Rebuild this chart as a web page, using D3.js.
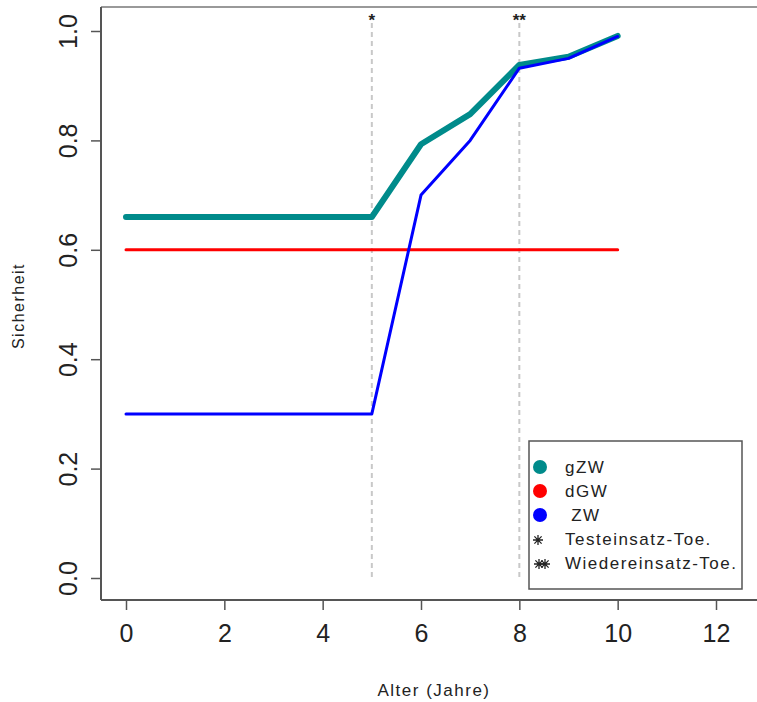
<!DOCTYPE html>
<html>
<head>
<meta charset="utf-8">
<script src="https://cdn.jsdelivr.net/npm/d3@7"></script>
<style>
	body { margin: 0; background: #fff; }
	text { font-family: "Liberation Sans", Arial, sans-serif; fill: #222; }
</style>
</head>
<body>
<svg id="chart" width="757" height="702"></svg>
<script>
"use strict";

// Data
var years = [0, 1, 2, 3, 4, 5, 6, 7, 8, 9, 10];
var gZW = [0.66, 0.66, 0.66, 0.66, 0.66, 0.66, 0.793, 0.848, 0.938, 0.953, 0.991];
var dGW = [0.6, 0.6, 0.6, 0.6, 0.6, 0.6, 0.6, 0.6, 0.6, 0.6, 0.6];
var ZW = [0.3, 0.3, 0.3, 0.3, 0.3, 0.3, 0.70, 0.80, 0.932, 0.95, 0.99];
var markers = [{ x: 5, label: "*" }, { x: 8, label: "**" }];
var xTicks = [0, 2, 4, 6, 8, 10, 12];
var yTicks = [0, 0.2, 0.4, 0.6, 0.8, 1.0];
var legendItems = [
	{ label: "gZW", color: "#008b8b", type: "dot" },
	{ label: "dGW", color: "#ff0000", type: "dot" },
	{ label: " ZW", color: "#0000ff", type: "dot" },
	{ label: "Testeinsatz-Toe.", type: "star", stars: [9] },
	{ label: "Wiedereinsatz-Toe.", type: "star", stars: [10, 16] }
];

var svg = d3.select("#chart");

// scales
var x = d3.scaleLinear().domain([0, 12]).range([126, 716]);
var y = d3.scaleLinear().domain([0, 1]).range([578, 31]);

// plot box (cut off on the right)
var box = { left: 101, top: 7, bottom: 600, right: 780 };
svg.append("line")
	.attr("x1", box.left).attr("x2", box.right)
	.attr("y1", box.top).attr("y2", box.top)
	.style("stroke", "#999").style("stroke-width", 2);
svg.append("line")
	.attr("x1", box.left).attr("x2", box.left)
	.attr("y1", box.top).attr("y2", box.bottom)
	.style("stroke", "#555").style("stroke-width", 2);
svg.append("line")
	.attr("x1", box.left).attr("x2", box.right)
	.attr("y1", box.bottom).attr("y2", box.bottom)
	.style("stroke", "#555").style("stroke-width", 2);

// axes
var xAxis = svg.append("g")
	.attr("transform", "translate(0," + box.bottom + ")")
	.call(d3.axisBottom(x).tickValues(xTicks).tickSize(10).tickPadding(14).tickFormat(d3.format("d")));
xAxis.select(".domain").remove();

var yAxis = svg.append("g")
	.attr("transform", "translate(" + box.left + ",0)")
	.call(d3.axisLeft(y).tickValues(yTicks).tickSize(10).tickFormat(d3.format(".1f")));
yAxis.select(".domain").remove();

svg.selectAll(".tick line").style("stroke", "#555").style("stroke-width", 1.5);
svg.selectAll(".tick text").style("font-size", "25px").style("fill", "#222");

// rotate y labels like R's las=0
yAxis.selectAll(".tick text")
	.attr("x", null).attr("dy", null)
	.attr("text-anchor", "middle")
	.attr("transform", "translate(-33,0) rotate(-90)")
	.attr("dy", "0.35em");

// axis titles
svg.append("text")
	.attr("x", 434).attr("y", 696)
	.attr("text-anchor", "middle")
	.style("font-size", "17px")
	.style("letter-spacing", "1.5px")
	.text("Alter (Jahre)");

svg.append("text")
	.attr("transform", "translate(24,306) rotate(-90)")
	.attr("text-anchor", "middle")
	.style("font-size", "16px")
	.style("letter-spacing", "1.5px")
	.text("Sicherheit");

// marker lines
svg.selectAll(".marker")
	.data(markers)
	.enter()
	.append("line")
	.attr("x1", function(d) { return x(d.x); })
	.attr("x2", function(d) { return x(d.x); })
	.attr("y1", y(1.0) - 8)
	.attr("y2", y(-0.005))
	.style("stroke", "#c8c8c8")
	.style("stroke-width", 2)
	.style("stroke-dasharray", "5,4");

svg.selectAll(".markerLabel")
	.data(markers)
	.enter()
	.append("text")
	.attr("x", function(d) { return x(d.x); })
	.attr("y", 26)
	.attr("text-anchor", "middle")
	.style("font-size", "17px")
	.style("font-weight", "bold")
	.text(function(d) { return d.label; });

// lines
var line = d3.line()
	.x(function(d, i) { return x(years[i]); })
	.y(function(d) { return y(d); });

function drawLine(values, color, width) {
	svg.append("path")
		.datum(values)
		.attr("d", line)
		.style("fill", "none")
		.style("stroke", color)
		.style("stroke-width", width)
		.style("stroke-linecap", "round")
		.style("stroke-linejoin", "round");
}

drawLine(dGW, "#ff0000", 3);
drawLine(gZW, "#008b8b", 6);
drawLine(ZW, "#0000ff", 3);

// legend
var legend = svg.append("g").attr("transform", "translate(529,441)");
legend.append("rect")
	.attr("width", 213).attr("height", 148)
	.style("fill", "#fff")
	.style("stroke", "#555")
	.style("stroke-width", 1.5);

var rows = legend.selectAll(".row")
	.data(legendItems)
	.enter()
	.append("g")
	.attr("transform", function(d, i) { return "translate(0," + (26 + i * 24) + ")"; });

rows.filter(function(d) { return d.type == "dot"; })
	.append("circle")
	.attr("cx", 11).attr("cy", 0).attr("r", 7)
	.style("fill", function(d) { return d.color; });

// R pch=8 star: plus + cross
var starPath = "M-5,0L5,0M0,-5L0,5M-3.6,-3.6L3.6,3.6M-3.6,3.6L3.6,-3.6";
rows.filter(function(d) { return d.type == "star"; })
	.selectAll("path")
	.data(function(d) { return d.stars; })
	.enter()
	.append("path")
	.attr("d", starPath)
	.attr("transform", function(d) { return "translate(" + d + ",1)"; })
	.style("stroke", "#222")
	.style("stroke-width", 1.3)
	.style("fill", "none");

rows.append("text")
	.attr("x", 36)
	.attr("y", 0)
	.attr("dy", "0.35em")
	.style("font-size", "17px")
	.style("letter-spacing", "1.5px")
	.style("white-space", "pre")
	.text(function(d) { return d.label; });
</script>
</body>
</html>
